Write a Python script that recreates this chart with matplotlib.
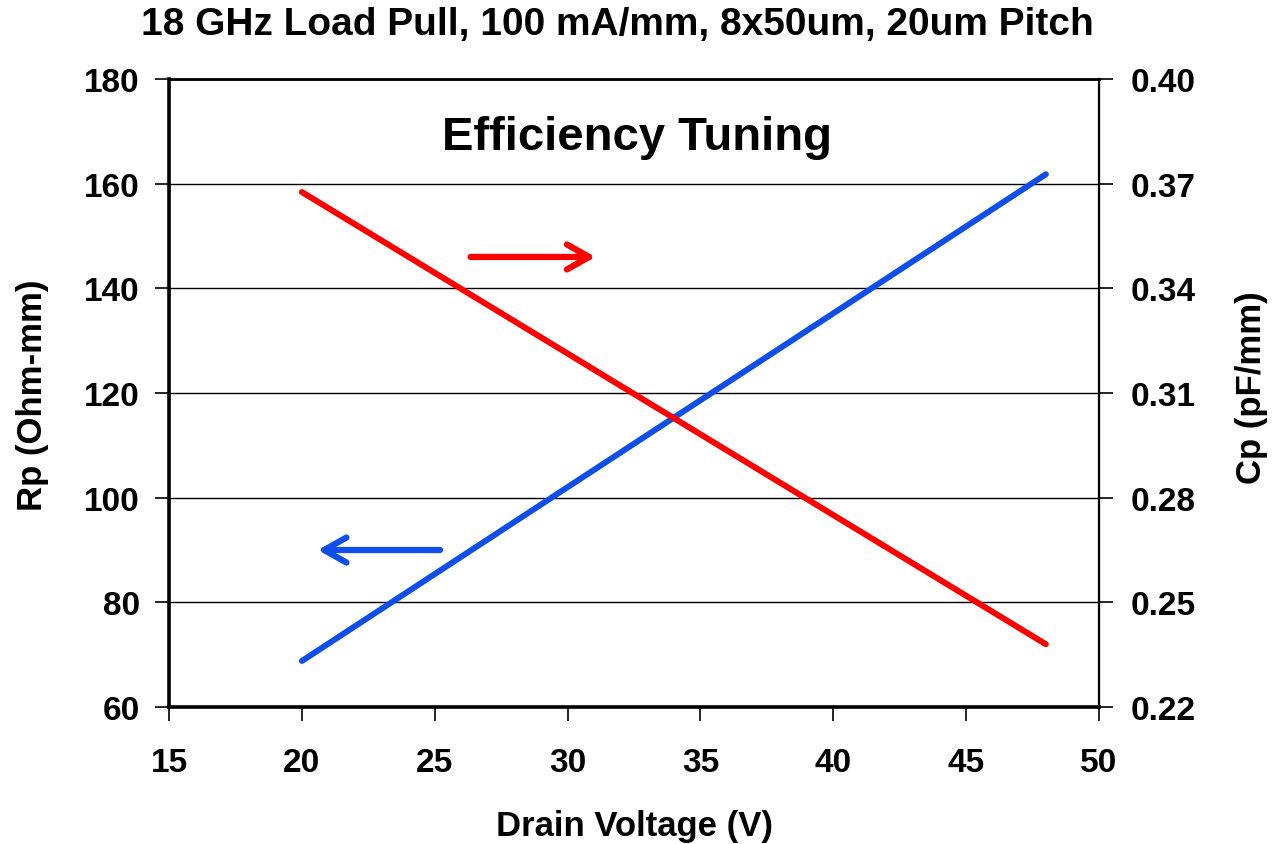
#!/usr/bin/env python3
"""Rp and Cp vs drain voltage at 18 GHz, efficiency-tuned load pull."""
import matplotlib
matplotlib.use("Agg")
import matplotlib.pyplot as plt

plt.rcParams["font.family"] = ["Liberation Sans", "DejaVu Sans"]
plt.rcParams["font.weight"] = "bold"

# drain voltage sweep (V)
vd = [20, 48]
# parallel resistance, Ohm-mm (left axis)
rp = [68.8, 161.8]
# parallel capacitance, pF/mm (right axis)
cp = [0.3676, 0.2380]

x_ticks = [15, 20, 25, 30, 35, 40, 45, 50]
rp_ticks = [60, 80, 100, 120, 140, 160, 180]
cp_ticks = [0.22, 0.25, 0.28, 0.31, 0.34, 0.37, 0.40]

BLUE = "#0f4fe8"
RED = "#ff0000"

fig = plt.figure(figsize=(12.72, 8.45), dpi=100)
ax = fig.add_axes([0.1329, 0.1621, 0.7311, 0.7432])
ax2 = ax.twinx()

ax.plot(vd, rp, color=BLUE, lw=4.3, solid_capstyle="round")
ax2.plot(vd, cp, color=RED, lw=4.3, solid_capstyle="round")

ax.set_xlim(15, 50)
ax.set_ylim(60, 180)
ax2.set_ylim(0.22, 0.40)
ax.set_xticks(x_ticks)
ax.set_yticks(rp_ticks)
ax2.set_yticks(cp_ticks)
ax2.set_yticklabels([f"{v:.2f}" for v in cp_ticks])

ax.grid(axis="y", color="black", lw=1.0)
ax.set_axisbelow(True)

for s in ("left", "bottom"):
    ax.spines[s].set_linewidth(2.6)
ax.spines["top"].set_linewidth(2.0)
ax2.spines["right"].set_linewidth(1.6)
for a in (ax, ax2):
    for s in a.spines.values():
        s.set_color("black")

ax.tick_params(axis="y", direction="out", length=10, width=1.2, pad=11, labelsize=24)
ax.tick_params(axis="x", direction="out", length=10, width=1.2, pad=19, labelsize=24)
ax2.tick_params(axis="y", direction="out", length=10, width=1.2, pad=13, labelsize=24)

ax.set_xlabel("Drain Voltage (V)", fontsize=25, fontweight="bold", va="center")
ax.xaxis.set_label_coords(0.5, -0.188)
ax.set_ylabel("Rp (Ohm-mm)", fontsize=25, fontweight="bold", va="center")
ax.yaxis.set_label_coords(-0.147, 0.498)
ax2.set_ylabel("Cp (pF/mm)", fontsize=25, fontweight="bold", va="center")
ax2.yaxis.set_label_coords(1.164, 0.51)

fig.text(617 / 1272, 1 - 25 / 845, "18 GHz Load Pull, 100 mA/mm, 8x50um, 20um Pitch",
         ha="center", va="center", fontsize=28, fontweight="bold")

ax.text(32.6, 169, "Efficiency Tuning", ha="center", va="center",
        fontsize=34, fontweight="bold")

# arrows pointing to each curve's axis
arrow = dict(arrowstyle="->,head_length=0.8,head_width=0.45",
             mutation_scale=20, lw=4.5, capstyle="round", shrinkA=0, shrinkB=0)
ax.annotate("", xy=(31.05, 146), xytext=(26.35, 146),
            arrowprops=dict(arrow, color=RED))
ax.annotate("", xy=(20.6, 90), xytext=(25.2, 90),
            arrowprops=dict(arrow, color=BLUE))

fig.savefig("out.png", dpi=100)
